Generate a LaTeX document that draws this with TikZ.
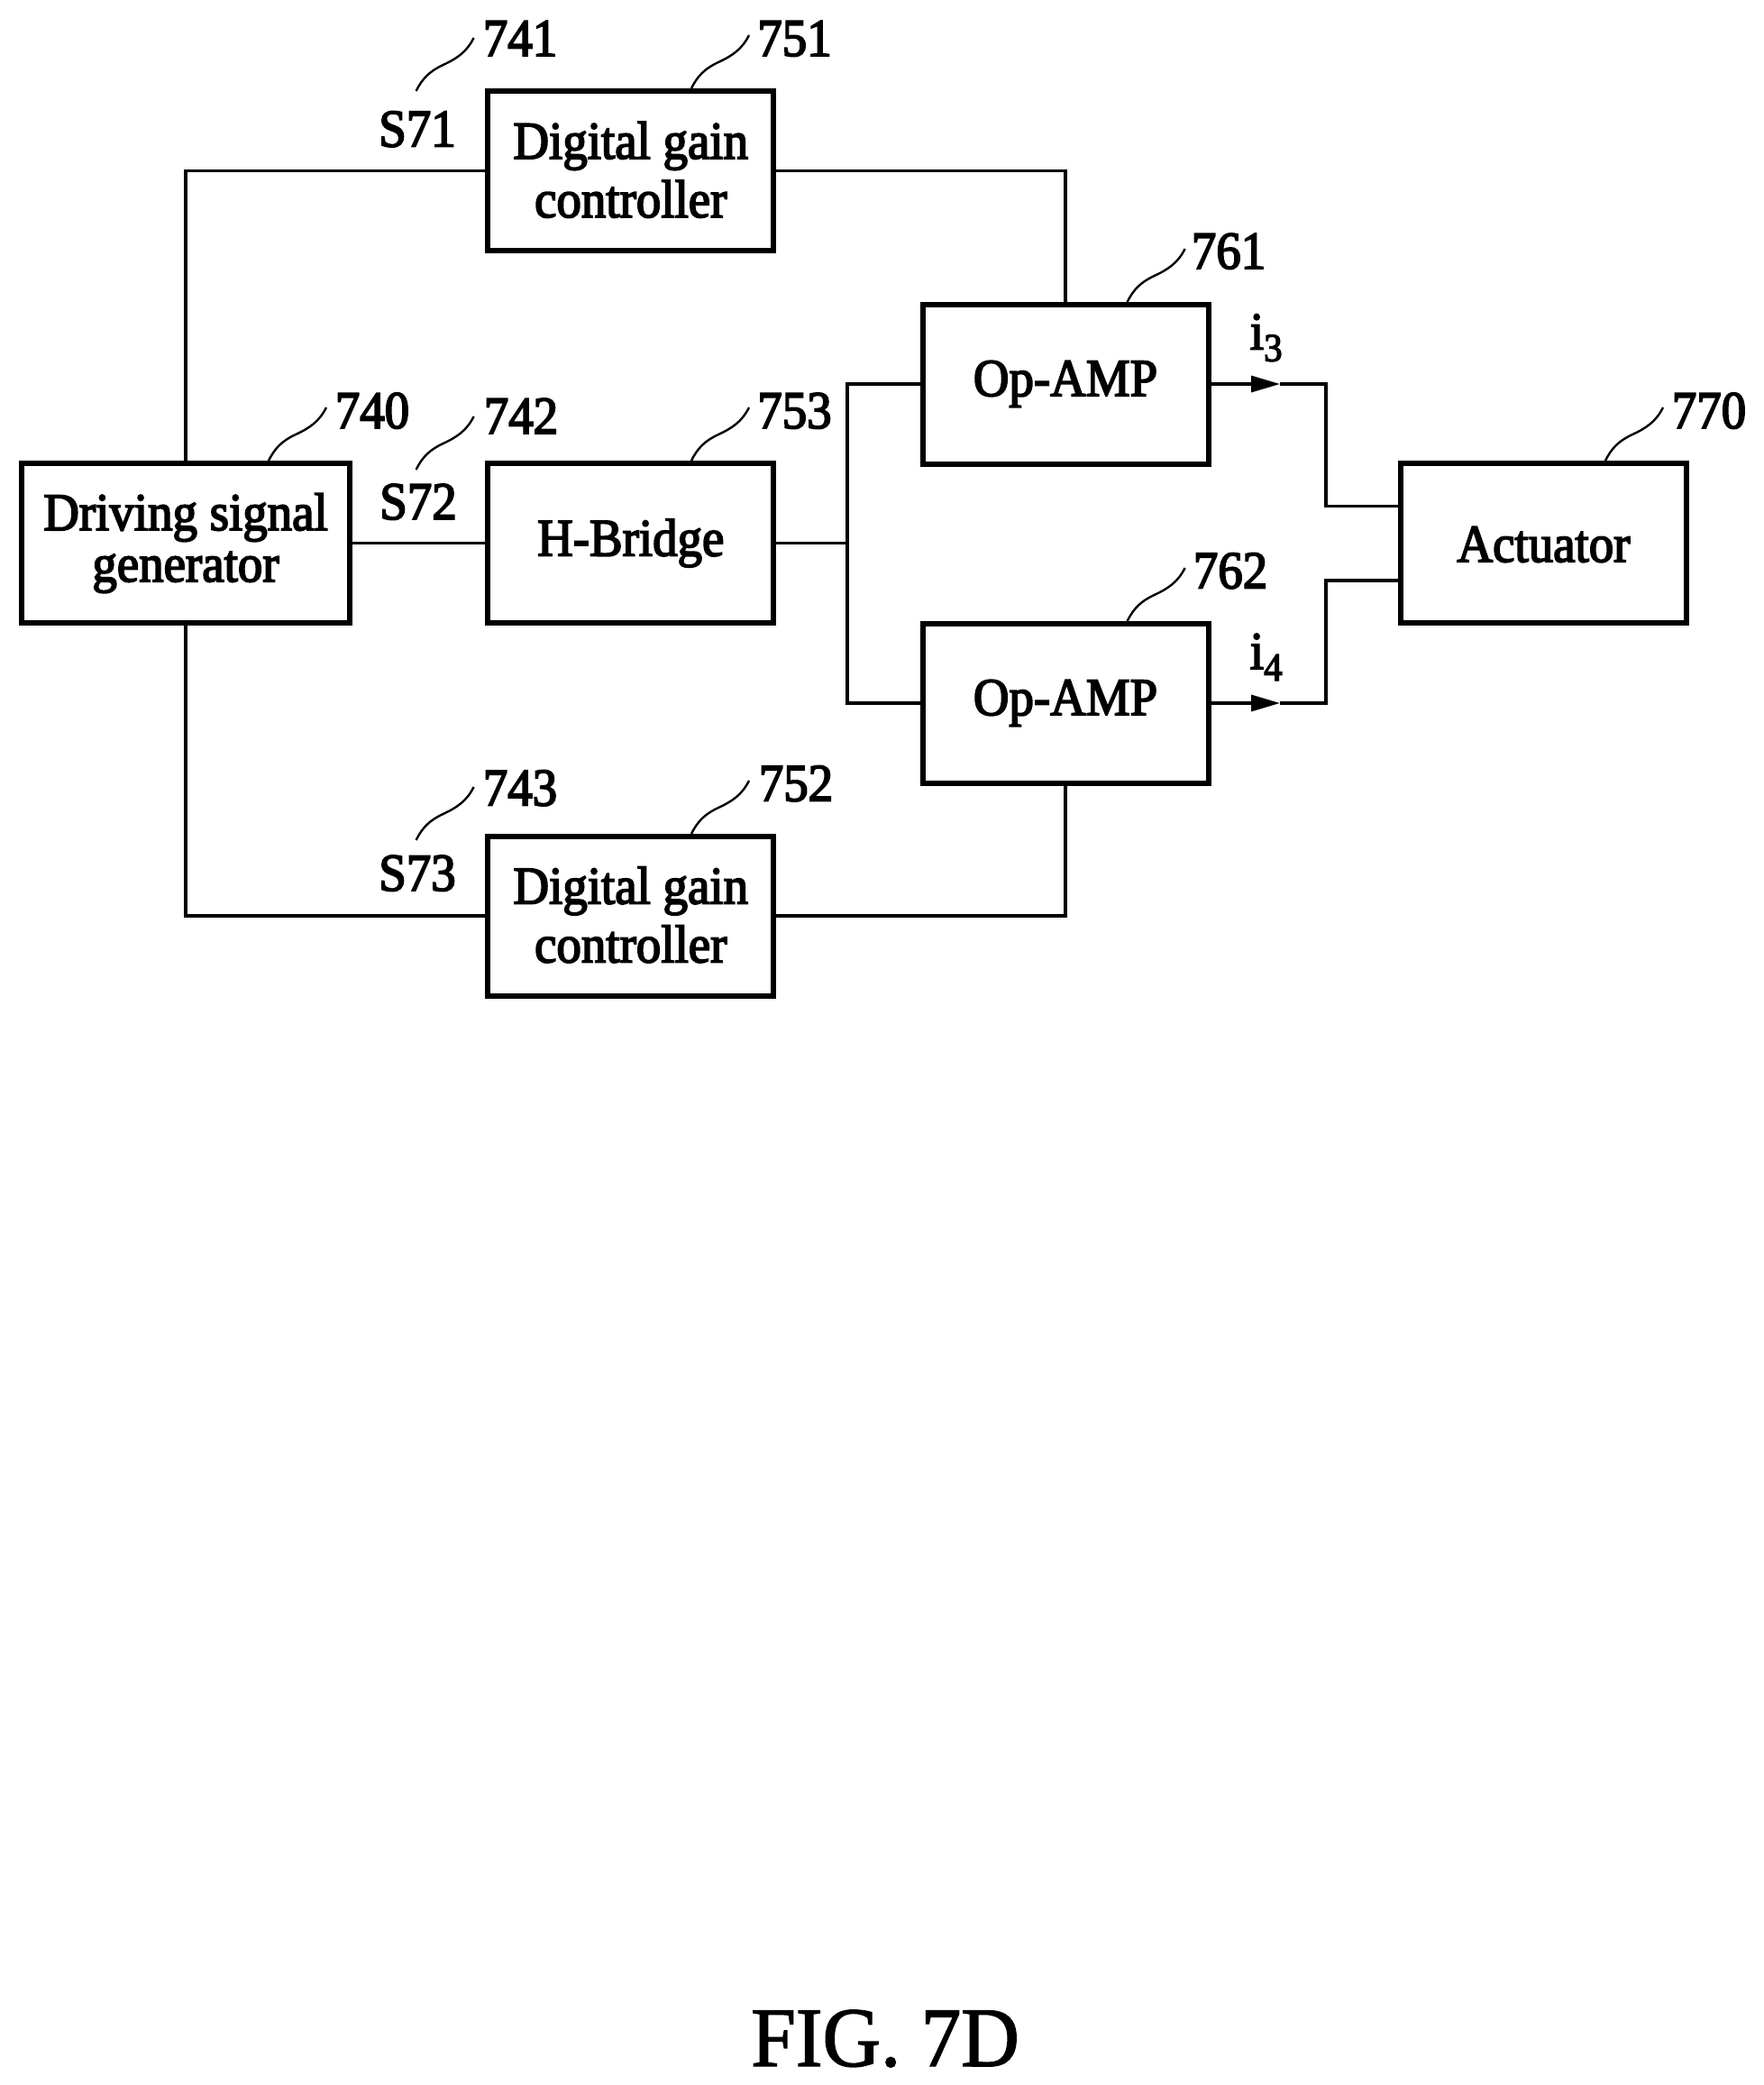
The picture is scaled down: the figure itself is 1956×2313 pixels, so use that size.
\documentclass[tikz,border=0pt]{standalone}
\usepackage{fontspec}
\usetikzlibrary{arrows.meta}
\newfontfamily\lab[FakeBold=3,FakeStretch=0.93]{Liberation Serif}
\newfontfamily\figf[FakeBold=1.5,FakeStretch=0.95]{Liberation Serif}
\tikzset{
  px/.style={x=0.5pt,y=-0.5pt},
  box/.style={draw=black,line width=3pt,line join=miter,minimum height=88.5pt,minimum width=158.5pt,inner sep=0pt,outer sep=0pt,align=center,
    font=\fontsize{29.5}{32.5}\selectfont\lab},
  gainbox/.style={box,text depth=1.5pt},
  wbox/.style={box,minimum width=182pt,font=\fontsize{29.5}{28.5}\selectfont\lab},
  wire/.style={draw=black,line width=1.65pt,line join=miter},
  arrowwire/.style={wire,-{Triangle[length=16pt,width=9pt]}},
  lead/.style={draw=black,line width=1.2pt},
  num/.style={anchor=base,inner sep=0pt,font=\fontsize{29.5}{32}\selectfont\lab},
  leader/.pic={\draw[lead] (0,0) .. controls (7,-14) and (15,-22) .. (30,-29) .. controls (45,-36) and (56,-43) .. (64,-59);}
}
\begin{document}
\begin{tikzpicture}[px]
\useasboundingbox (0,0) rectangle (1956,2313);
\fill[white] (0,0) rectangle (1956,2313);
% blocks
\node[wbox] (drv) at (206,602.5) {Driving signal\\generator};
\node[gainbox] (dg1) at (699.75,189.5) {Digital gain\\controller};
\node[box] (hb) at (699.75,602.5) {H-Bridge};
\node[gainbox] (dg2) at (699.75,1016) {Digital gain\\controller};
\node[box] (op1) at (1182,426) {Op-AMP};
\node[box] (op2) at (1182,780) {Op-AMP};
\node[box,text height=21pt] (act) at (1712.5,602.5) {Actuator};
% helper points
\coordinate (j) at (940,602.5);
\coordinate (t3) at (1420,426);
\coordinate (t4) at (1420,780);
\coordinate (k3) at (1471,561.5);
\coordinate (k4) at (1471,644);
\coordinate (p3) at (act.west |- k3);
\coordinate (p4) at (act.west |- k4);
% connectors
\draw[wire] (drv.north) |- (dg1.west);
\draw[wire] (drv.south) |- (dg2.west);
\draw[wire] (drv.east) -- (hb.west);
\draw[wire] (dg1.east) -| (op1.north);
\draw[wire] (dg2.east) -| (op2.south);
\draw[wire] (hb.east) -- (j);
\draw[wire] (op1.west) -| (j) |- (op2.west);
\draw[arrowwire] (op1.east) -- (t3);
\draw[arrowwire] (op2.east) -- (t4);
\draw[wire] (t3) -| (k3) -- (p3);
\draw[wire] (t4) -| (k4) -- (p4);
% leaders
\pic at (461.6,101) {leader};
\pic at (767,98) {leader};
\pic at (298,511) {leader};
\pic at (461.6,521) {leader};
\pic at (767,511) {leader};
\pic at (1250.6,335) {leader};
\pic at (1250.6,689) {leader};
\pic at (1781,511) {leader};
\pic at (461.6,932) {leader};
\pic at (767,925) {leader};
% labels
\node[num] (n741) at (577,62) {741};
\node[num] (n751) at (881.5,62) {751};
\node[num] (s71) at (463,162.5) {S71};
\node[num] (n740) at (413,475) {740};
\node[num] (n742) at (578,481) {742};
\node[num] (n753) at (881.5,475) {753};
\node[num] (s72) at (464,576) {S72};
\node[num] (n761) at (1363,298) {761};
\node[num] (n762) at (1365,652.5) {762};
\node[num] (n770) at (1896,475) {770};
\node[num] (n743) at (577,893.5) {743};
\node[num] (n752) at (883,888.5) {752};
\node[num] (s73) at (463,988) {S73};
\node[num,anchor=base west] (i3) at (1386.5,387.6) {i\raisebox{-6.5pt}{\fontsize{22}{24}\selectfont 3}};
\node[num,anchor=base west] (i4) at (1386.5,742) {i\raisebox{-6.5pt}{\fontsize{22}{24}\selectfont 4}};
\node[anchor=base,inner sep=0pt,font=\fontsize{47}{50}\selectfont\figf] (fig) at (982,2292) {FIG. 7D};
\end{tikzpicture}
\end{document}
